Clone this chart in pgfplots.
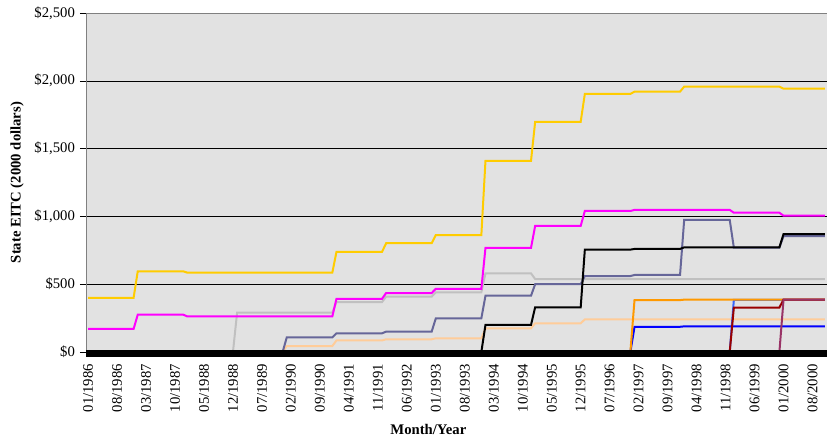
\documentclass[border=0pt]{standalone}
\usepackage{fontspec}
\setmainfont{Liberation Serif}
\usepackage{pgfplots}
\pgfplotsset{compat=1.18}
\definecolor{cgold}{HTML}{FFCC00}
\definecolor{cmag}{HTML}{FF00FF}
\definecolor{cgray}{HTML}{C0C0C0}
\definecolor{cslate}{HTML}{666699}
\definecolor{cpeach}{HTML}{FFCC99}
\definecolor{corange}{HTML}{FF9900}
\definecolor{cblue}{HTML}{0000FF}
\definecolor{cmblue}{HTML}{3366FF}
\definecolor{cdred}{HTML}{990000}
\definecolor{cplum}{HTML}{993366}
\definecolor{bgc}{HTML}{E2E2E2}
\begin{document}
\fontsize{14.7}{17}\selectfont
\begin{tikzpicture}
\begin{axis}[
  scale only axis, width=741pt, height=339pt,
  xmin=-0.5, xmax=178.5, ymin=0, ymax=2500,
  clip=false,
  axis background/.style={fill=bgc},
  axis line style={draw=gray},
  xtick={0,7,...,175},
  xticklabels={01/1986,08/1986,03/1987,10/1987,05/1988,12/1988,07/1989,02/1990,09/1990,04/1991,11/1991,06/1992,01/1993,08/1993,03/1994,10/1994,05/1995,12/1995,07/1996,02/1997,09/1997,04/1998,11/1998,06/1999,01/2000,08/2000},
  xtick style={draw=none},
  xticklabel style={yshift=-1pt, rotate=90, anchor=east},
  ytick={0,500,1000,1500,2000},
  extra y ticks={2500}, extra y tick style={grid=none},
  ymajorgrids, grid style={black, line width=0.6pt},
  ytick style={black, line width=0.6pt},
  tick align=outside, major tick length=6pt,
  yticklabel={\$\pgfmathprintnumber{\tick}},
  /pgf/number format/1000 sep={,},
  /pgf/number format/fixed,
  /pgf/number format/assume math mode=true,
  ylabel={\bfseries State EITC (2000 dollars)},
  ylabel style={at={(axis description cs:-0.093,0.5)}, anchor=center},
  xlabel={\bfseries Month/Year},
  xlabel style={at={(axis description cs:0.462,0)}, anchor=north, yshift=-67pt},
]
% peach
\addplot[cpeach, line width=2pt] coordinates {(0,0)(47,0)(48,44)(59,44)(60,85)(71,85)(72,94)(83,94)(84,101)(95,101)(96,175)(107,175)(108,212)(119,212)(120,240)(178,240)};
% light gray
\addplot[cgray, line width=2pt] coordinates {(0,0)(35,0)(36,290)(59,290)(60,368)(71,368)(72,408)(83,408)(84,440)(95,440)(96,580)(107,580)(108,538)(178,538)};
% slate
\addplot[cslate, line width=2pt] coordinates {(0,0)(47,0)(48,108)(59,108)(60,138)(71,138)(72,150)(83,150)(84,248)(95,248)(96,415)(107,415)(108,500)(119,500)(120,560)(131,560)(132,568)(143,568)(144,975)(155,975)(156,769)(167,769)(168,855)(178,855)};
% magenta
\addplot[cmag, line width=2pt] coordinates {(0,170)(11,170)(12,275)(23,275)(24,262)(59,262)(60,392)(71,392)(72,435)(83,435)(84,466)(95,466)(96,768)(107,768)(108,930)(119,930)(120,1040)(131,1040)(132,1048)(155,1048)(156,1027)(167,1027)(168,1005)(178,1005)};
% gold
\addplot[cgold, line width=2pt] coordinates {(0,400)(11,400)(12,595)(23,595)(24,585)(59,585)(60,738)(71,738)(72,802)(83,802)(84,862)(95,862)(96,1410)(107,1410)(108,1698)(119,1698)(120,1903)(131,1903)(132,1920)(143,1920)(144,1957)(167,1957)(168,1942)(178,1942)};
% black
\addplot[black, line width=2pt] coordinates {(0,0)(95,0)(96,200)(107,200)(108,330)(119,330)(120,755)(131,755)(132,760)(143,760)(144,772)(167,772)(168,870)(178,870)};
% blue
\addplot[cblue, line width=2pt] coordinates {(0,0)(131,0)(132,186)(143,186)(144,189)(178,189)};
% medium blue
\addplot[cmblue, line width=2pt] coordinates {(0,0)(155,0)(156,385)(178,385)};
% orange
\addplot[corange, line width=2pt] coordinates {(0,0)(131,0)(132,383)(143,383)(144,386)(178,386)};
% dark red
\addplot[cdred, line width=2pt] coordinates {(0,0)(155,0)(156,328)(167,328)(168,386)(178,386)};
% plum
\addplot[cplum, line width=2pt] coordinates {(0,0)(167,0)(168,387)(178,387)};
% zero band
\addplot[black, line width=7pt] coordinates {(-0.5,-11)(178.5,-11)};
\end{axis}
\pgfresetboundingbox
\path[use as bounding box] ([xshift=-86pt,yshift=-87pt]current axis.south west) rectangle ([yshift=13pt]current axis.north east);
\end{tikzpicture}
\end{document}
